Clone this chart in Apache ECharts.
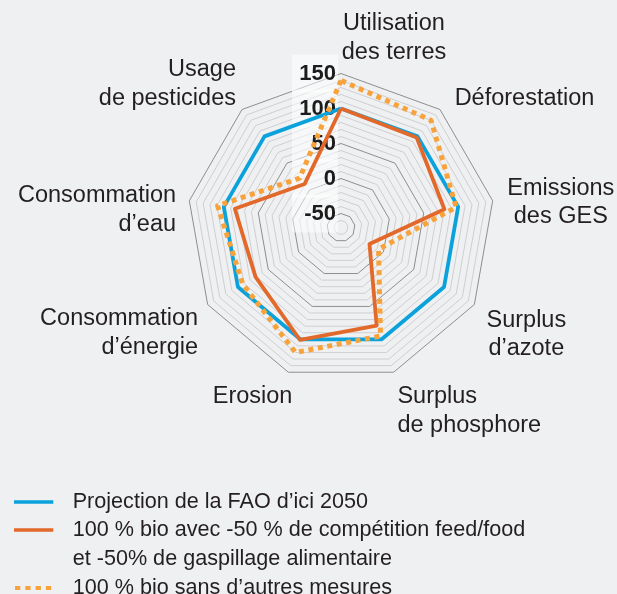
<!DOCTYPE html>
<html><head><meta charset="utf-8">
<script src="https://cdn.jsdelivr.net/npm/echarts@6/dist/echarts.min.js"></script>
<style>html,body{margin:0;padding:0;background:#eff0f2}#c{width:617px;height:594px}</style>
</head><body><div id="c"></div>
<script>
// Indicators listed clockwise from the top
const indicatorNames = ['Utilisation\ndes terres', 'Déforestation', 'Emissions\ndes GES', 'Surplus\nd’azote', 'Surplus\nde phosphore', 'Erosion', 'Consommation\nd’énergie', 'Consommation\nd’eau', 'Usage\nde pesticides'];
const faoValues = [100, 100, 100, 100, 100, 100, 100, 100, 100];
const bioMesuresValues = [100, 98, 80, -23, 79, 101, 71, 84, 11];
const bioSeulValues = [140, 130, 97, -8, 95, 120, 92, 109, 22];
const seriesNames = ['Projection de la FAO d’ici 2050', '100 % bio avec -50 % de compétition feed/food\net -50% de gaspillage alimentaire', '100 % bio sans d’autres mesures'];
const tickLabels = [-50, 0, 50, 100, 150];
const axisMin = -70, axisMax = 150, axisStep = 10;

// name placement styles (clockwise order)
const nameStyles = [
  {gap: 7, align: 'center', va: 'bottom', pad: [0, 0, 0, 106]},
  {gap: 15, align: 'left', va: 'middle', pad: [0, 0, 0, 5]},
  {gap: -10, align: 'center', va: 'middle', pad: [0, 0, 0, 156]},
  {gap: 60, align: 'center', va: 'middle', pad: [0, 0, 0, 0]},
  {gap: 11, align: 'left', va: 'top', pad: [0, 0, 0, 0]},
  {gap: 11, align: 'center', va: 'top', pad: [0, 64, 0, 0]},
  {gap: 0, align: 'right', va: 'top', pad: [0, 9.5, 0, 0]},
  {gap: 13, align: 'right', va: 'middle', pad: [0, 0.5, 0, 0], spacer: 23},
  {gap: -4, align: 'right', va: 'bottom', pad: [0, 8.6, 0, 0]}
];

// ECharts radar runs counter-clockwise: reorder
const order = [0, 8, 7, 6, 5, 4, 3, 2, 1];
const reord = arr => order.map(i => arr[i]);

const FONT = 'Liberation Sans, Arial, sans-serif';
const indicator = order.map((i, k) => {
  const s = nameStyles[i];
  const ind = {
    name: indicatorNames[i], min: axisMin, max: axisMax,
    nameGap: s.gap, nameMoveOverlap: false,
    nameTextStyle: {align: s.align, verticalAlign: s.va, padding: s.pad}
  };
  if (k === 0) {
    ind.axisLabel = {
      show: true, margin: 3,
      formatter: v => tickLabels.indexOf(Math.round(v)) >= 0 ? '{a|' + Math.round(v) + '}' : '',
      rich: {a: {fontSize: 22, fontWeight: 'bold', fontFamily: FONT, color: '#1c1c1c', lineHeight: 19,
                 backgroundColor: 'rgba(255,255,255,0.5)', padding: [8, 2, 8, 6], width: 38, align: 'right'}}
    };
  }
  return ind;
});
const nameRich = {};
nameStyles.forEach((s, i) => { if (s.spacer) nameRich['sp' + i] = {fontSize: 2, lineHeight: s.spacer}; });

const light = '#cfcfd1', dark = '#8e8e90';
const colors = ['#0ba2dc', '#e2692a', '#f7a23a'];

const chart = echarts.init(document.getElementById('c'), null, {renderer: 'canvas'});
const legendText = {fontSize: 21.6, lineHeight: 29, color: '#231f20', fontFamily: FONT, padding: [0, 0, 0, 14.4]};
const legendBase = {
  orient: 'vertical', left: 14, padding: 0, selectedMode: false,
  itemWidth: 39.3, itemHeight: 3.5, icon: 'rect',
  itemStyle: {borderWidth: 0}, textStyle: legendText
};
chart.setOption({
  backgroundColor: '#eff0f2',
  animation: false,
  legend: [
    Object.assign({}, legendBase, {data: [seriesNames[0]], top: 487.5}),
    Object.assign({}, legendBase, {data: [seriesNames[1]], top: 515.5, itemHeight: 32.5,
      icon: 'path://M0 0h39.3v3.5h-39.3zM39.2 32.4h0.1v0.1h-0.1z'}),
    Object.assign({}, legendBase, {data: [seriesNames[2]], top: 573.5, left: 15, itemHeight: 4, itemWidth: 36.2,
      icon: 'path://M0 0h5.3v4h-5.3zM10.3 0h5.3v4h-5.3zM20.6 0h5.3v4h-5.3zM30.9 0h5.3v4h-5.3z',
      textStyle: Object.assign({}, legendText, {padding: [0, 0, 0, 16.5]})})
  ],
  radar: {
    center: [341, 227.5], radius: 154, startAngle: 90,
    shape: 'polygon', splitNumber: (axisMax - axisMin) / axisStep,
    indicator: indicator,
    axisName: {color: '#231f20', fontSize: 23.5, lineHeight: 28.5, fontFamily: FONT, rich: nameRich,
      formatter: (name) => {
        const i = indicatorNames.indexOf(name);
        return (i >= 0 && nameStyles[i].spacer) ? '{sp' + i + '| }\n' + name : name;
      }},
    axisLine: {show: false}, axisTick: {show: false}, axisLabel: {show: false},
    splitArea: {show: false},
    splitLine: {lineStyle: {width: 1, color: [light, light, dark, light, light]}}
  },
  series: [
    {type: 'radar', name: seriesNames[0], symbol: 'none', z: 2,
     itemStyle: {color: colors[0]}, lineStyle: {color: colors[0], width: 3.8},
     data: [{value: reord(faoValues), name: seriesNames[0]}]},
    {type: 'radar', name: seriesNames[1], symbol: 'none', z: 3,
     itemStyle: {color: colors[1]}, lineStyle: {color: colors[1], width: 3.8},
     data: [{value: reord(bioMesuresValues), name: seriesNames[1]}]},
    {type: 'radar', name: seriesNames[2], symbol: 'none', z: 4,
     itemStyle: {color: colors[2]}, lineStyle: {color: colors[2], width: 5, type: [5, 4.6], cap: 'butt'},
     data: [{value: reord(bioSeulValues), name: seriesNames[2]}]}
  ]
});
</script></body></html>
